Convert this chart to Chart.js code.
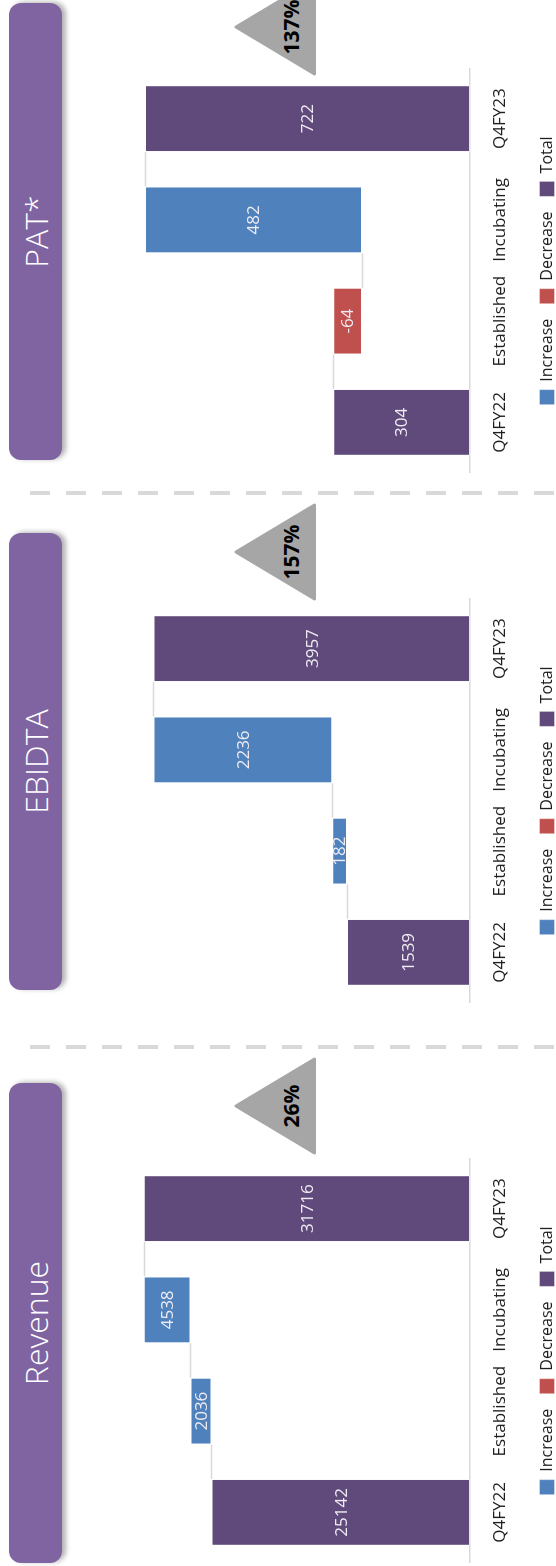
<!DOCTYPE html>
<html>
<head>
<meta charset="utf-8">
<script src="https://cdn.jsdelivr.net/npm/chart.js@4.4.0/dist/chart.umd.min.js"></script>
<style>
  html, body { margin: 0; padding: 0; background: #fff; overflow: hidden; }
  body { width: 556px; height: 1566px; position: relative; }
  /* the three panels are laid out side by side, then turned a quarter to fit the tall page */
  #board {
    position: absolute; left: 0; top: 0; width: 1566px; height: 556px;
    transform-origin: 0 0; transform: translateY(1566px) rotate(-90deg);
    font-family: "Open Sans", sans-serif;
  }
  .pill {
    position: absolute; top: 9px; height: 53px; background: #8064a2; border-radius: 12px;
    box-shadow: 1px 4px 5px rgba(0, 0, 0, 0.3); color: #fff; font-size: 32px; font-weight: 300;
    display: flex; align-items: center; justify-content: center;
  }
  canvas { position: absolute; top: 0; }
  #marks { position: absolute; left: 0; top: 0; pointer-events: none; }
</style>
</head>
<body>
<div id="board">
  <svg id="marks" width="1566" height="556" xmlns="http://www.w3.org/2000/svg"></svg>
</div>
<script>
const categories = ['Q4FY22', 'Established', 'Incubating', 'Q4FY23'];
const stepKinds = ['total', 'change', 'change', 'total'];
const revenueSteps = [25142, 2036, 4538, 31716];
const ebidtaSteps = [1539, 182, 2236, 3957];
const patSteps = [304, -64, 482, 722];
const panelTitles = ['Revenue', 'EBIDTA', 'PAT*'];
const growthLabels = ['26%', '157%', '137%'];
const seriesNames = ['Increase', 'Decrease', 'Total'];

const COLORS = { Increase: '#4f81bd', Decrease: '#c0504d', Total: '#604a7b' };

const panels = [
  { title: panelTitles[0], steps: revenueSteps, growth: growthLabels[0], max: 35000,
    chartLeft: 3, pillLeft: 3, pillWidth: 480, triX: 460 },
  { title: panelTitles[1], steps: ebidtaSteps, growth: growthLabels[1], max: 4500,
    chartLeft: 563, pillLeft: 576, pillWidth: 457, triX: 1014 },
  { title: panelTitles[2], steps: patSteps, growth: growthLabels[2], max: 800,
    chartLeft: 1093, pillLeft: 1106, pillWidth: 457, triX: 1539 }
];

const board = document.getElementById('board');
const svg = document.getElementById('marks');
const NS = 'http://www.w3.org/2000/svg';

function svgEl(tag, attrs, text) {
  const el = document.createElementNS(NS, tag);
  for (const k in attrs) el.setAttribute(k, attrs[k]);
  if (text) el.textContent = text;
  svg.appendChild(el);
  return el;
}

// dashed separators between panels
[519, 1073].forEach(x => {
  svgEl('line', { x1: x, y1: 30, x2: x, y2: 560, stroke: '#d9d9d9', 'stroke-width': 4,
    'stroke-dasharray': '20 16' });
});

// running totals -> floating bar ranges for each series
function waterfall(steps) {
  const sets = { Increase: [], Decrease: [], Total: [] };
  const levels = [];
  let run = 0;
  steps.forEach((v, i) => {
    seriesNames.forEach(n => sets[n].push(null));
    if (stepKinds[i] === 'total') {
      sets.Total[i] = [0, v];
      run = v;
    } else if (v >= 0) {
      sets.Increase[i] = [run, run + v];
      run += v;
    } else {
      sets.Decrease[i] = [run + v, run];
      run += v;
    }
    levels.push(run);
  });
  return { sets, levels };
}

const connectorPlugin = {
  id: 'connectors',
  beforeDatasetsDraw(chart) {
    const { ctx, scales: { x, y } } = chart;
    const levels = chart.options.plugins.connectors.levels;
    const half = chart.getDatasetMeta(2).data[0].width / 2;
    ctx.save();
    ctx.strokeStyle = '#d9d9d9';
    ctx.lineWidth = 1.5;
    for (let i = 0; i < levels.length - 1; i++) {
      const py = Math.round(y.getPixelForValue(levels[i])) + 0.5;
      ctx.beginPath();
      ctx.moveTo(x.getPixelForValue(i) + half, py);
      ctx.lineTo(x.getPixelForValue(i + 1) - half, py);
      ctx.stroke();
    }
    ctx.restore();
  }
};

const valueLabelPlugin = {
  id: 'valueLabels',
  afterDatasetsDraw(chart) {
    const { ctx } = chart;
    const steps = chart.options.plugins.valueLabels.steps;
    ctx.save();
    ctx.font = '17px "Open Sans", sans-serif';
    ctx.fillStyle = '#eeecf2';
    ctx.textAlign = 'center';
    ctx.textBaseline = 'middle';
    chart.data.datasets.forEach((ds, di) => {
      chart.getDatasetMeta(di).data.forEach((bar, i) => {
        if (ds.data[i] == null) return;
        const c = bar.getCenterPoint();
        ctx.fillText(String(steps[i]), c.x, c.y + 1);
      });
    });
    ctx.restore();
  }
};

panels.forEach(p => {
  const pill = document.createElement('div');
  pill.className = 'pill';
  pill.style.left = p.pillLeft + 'px';
  pill.style.width = p.pillWidth + 'px';
  pill.textContent = p.title;
  board.appendChild(pill);

  // growth marker
  svgEl('polygon', {
    points: `${p.triX},236 ${p.triX - 47},314.5 ${p.triX + 47},314.5`,
    fill: '#a6a6a6', stroke: '#a6a6a6', 'stroke-width': 3, 'stroke-linejoin': 'round'
  });
  svgEl('text', {
    x: p.triX, y: 291, 'text-anchor': 'middle', 'dominant-baseline': 'central',
    'font-family': '"Open Sans", sans-serif', 'font-weight': 'bold', 'font-size': 21, fill: '#000'
  }, p.growth);

  const canvas = document.createElement('canvas');
  canvas.width = 405;
  canvas.height = 565;
  canvas.style.left = p.chartLeft + 'px';
  board.appendChild(canvas);

  const { sets, levels } = waterfall(p.steps);

  new Chart(canvas, {
    type: 'bar',
    data: {
      labels: categories,
      datasets: seriesNames.map(n => ({
        label: n,
        data: sets[n],
        backgroundColor: COLORS[n],
        borderColor: 'rgba(255,255,255,0.35)',
        borderWidth: 1,
        borderSkipped: false,
        categoryPercentage: 1,
        barPercentage: 0.66
      }))
    },
    options: {
      responsive: false,
      animation: false,
      layout: { padding: { top: 110, left: 0, right: 0, bottom: 0 } },
      scales: {
        x: {
          stacked: true,
          grid: { display: false, drawTicks: false },
          border: { display: true, color: '#d9d9d9', width: 1.5 },
          ticks: { color: '#1f1f1f', padding: 20, font: { family: '"Open Sans", sans-serif', size: 17 } },
          afterFit(scale) { scale.height = 54; }
        },
        y: { display: false, min: 0, max: p.max }
      },
      plugins: {
        legend: {
          position: 'bottom',
          labels: {
            boxWidth: 15, boxHeight: 15, padding: 15, color: '#1f1f1f',
            font: { family: '"Open Sans", sans-serif', size: 16 }
          }
        },
        tooltip: { enabled: false },
        connectors: { levels },
        valueLabels: { steps: p.steps }
      }
    },
    plugins: [connectorPlugin, valueLabelPlugin]
  });
});
</script>
</body>
</html>
